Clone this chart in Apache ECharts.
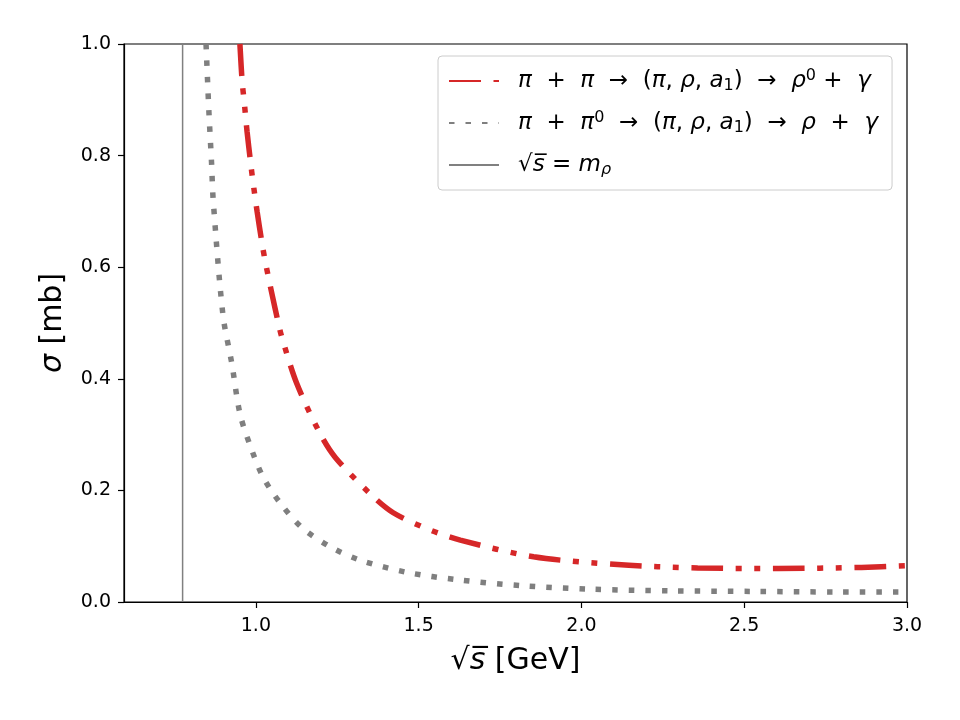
<!DOCTYPE html>
<html>
<head>
<meta charset="utf-8">
<script src="https://cdn.jsdelivr.net/npm/echarts@6/dist/echarts.min.js"></script>
<style>
  html, body { margin: 0; padding: 0; background: #fff; }
  #chart { width: 960px; height: 720px; }
</style>
</head>
<body>
<div id="chart"></div>
<script>
// sqrt(s) [GeV] and sigma [mb]
const redX = [0.951, 0.958, 0.964, 0.973, 0.984, 0.991, 1.004, 1.019, 1.029, 1.048, 1.069, 1.081, 1.126, 1.197, 1.244, 1.351, 1.422, 1.527, 1.628, 1.853, 2.111, 2.357, 2.604, 2.860, 3.000];
const redY = [1.000, 0.932, 0.898, 0.843, 0.787, 0.754, 0.699, 0.643, 0.610, 0.556, 0.500, 0.472, 0.391, 0.302, 0.259, 0.194, 0.160, 0.131, 0.111, 0.081, 0.067, 0.061, 0.060, 0.062, 0.065];

const grayX = [0.847, 0.856, 0.864, 0.869, 0.899, 0.926, 0.951, 0.982, 1.022, 1.074, 1.142, 1.228, 1.320, 1.465, 1.618, 1.823, 2.029, 2.275, 2.521, 2.785, 3.000];
const grayY = [1.000, 0.876, 0.786, 0.720, 0.514, 0.428, 0.338, 0.281, 0.224, 0.178, 0.133, 0.099, 0.075, 0.053, 0.040, 0.029, 0.023, 0.020, 0.019, 0.018, 0.018];

const mRho = 0.775;
const xTicks = [1.0, 1.5, 2.0, 2.5, 3.0];

const legendNames = {
  pipi: '{i|π}  +  {i|π}  →  ({i|π}, {i|ρ}, {i|a}{sub|1})  →  {i|ρ}{sup|0} +  {i|γ}',
  pipi0: '{i|π}  +  {i|π}{sup|0}  →  ({i|π}, {i|ρ}, {i|a}{sub|1})  →  {i|ρ}  +  {i|γ}',
  mrho: '√{i|s̅} = {i|m}{subi|ρ}'
};

const FONT = 'DejaVu Sans';
const LF = 23;
const rich = {
  i: { fontStyle: 'italic', fontFamily: FONT, fontSize: LF, lineHeight: 26, color: '#000' },
  sub: { fontFamily: FONT, fontSize: 16, lineHeight: 14, verticalAlign: 'bottom', color: '#000' },
  subi: { fontFamily: FONT, fontStyle: 'italic', fontSize: 16, lineHeight: 14, verticalAlign: 'bottom', color: '#000' },
  sup: { fontFamily: FONT, fontSize: 16, lineHeight: 14, verticalAlign: 'top', color: '#000' }
};

let myChart = echarts.init(document.getElementById('chart'), null, { renderer: 'canvas' });

var option = {
  backgroundColor: '#fff',
  animation: false,
  grid: {
    left: 124, right: 53, top: 44, bottom: 118,
    show: true, borderColor: '#000', borderWidth: 1.2, backgroundColor: 'transparent'
  },
  legend: {
    orient: 'vertical',
    left: 438, top: 56,
    padding: [12, 14, 12, 10],
    itemGap: 16,
    itemWidth: 50,
    itemHeight: 14,
    itemStyle: { opacity: 0 },
    borderColor: '#cccccc',
    borderWidth: 1,
    borderRadius: 4,
    backgroundColor: 'rgba(255,255,255,0.8)',
    data: ['pipi', 'pipi0', 'mrho'],
    formatter: name => legendNames[name],
    textStyle: {
      fontFamily: FONT, fontSize: LF, lineHeight: 26, color: '#000',
      padding: [0, 0, 0, 14],
      rich: rich
    }
  },
  xAxis: {
    type: 'value',
    min: 0.595,
    max: 3.0,
    name: '√{i|s̅} [GeV]',
    nameLocation: 'middle',
    nameGap: 44,
    nameTextStyle: {
      fontFamily: FONT, fontSize: 30, color: '#000',
      rich: { i: { fontFamily: FONT, fontStyle: 'italic', fontSize: 30, color: '#000' } }
    },
    splitLine: { show: false },
    axisLine: { show: true, onZero: false, lineStyle: { color: '#000', width: 1.2 } },
    axisTick: { show: true, length: 6, customValues: xTicks, lineStyle: { color: '#000', width: 1.2 } },
    axisLabel: {
      customValues: xTicks,
      margin: 15,
      fontFamily: FONT, fontSize: 19, color: '#000',
      formatter: v => v.toFixed(1)
    }
  },
  yAxis: {
    type: 'value',
    min: 0,
    max: 1,
    interval: 0.2,
    name: '{i|σ} [mb]',
    nameLocation: 'middle',
    nameGap: 56,
    nameRotate: 90,
    nameTextStyle: {
      fontFamily: FONT, fontSize: 30, color: '#000',
      rich: { i: { fontFamily: FONT, fontStyle: 'italic', fontSize: 30, color: '#000' } }
    },
    splitLine: { show: false },
    axisLine: { show: true, lineStyle: { color: '#000', width: 1.2 } },
    axisTick: { show: true, length: 6, lineStyle: { color: '#000', width: 1.2 } },
    axisLabel: {
      margin: 13,
      fontFamily: FONT, fontSize: 19, color: '#000',
      formatter: v => v.toFixed(1)
    }
  },
  series: [
    {
      name: 'pipi',
      type: 'line',
      data: redX.map((x, i) => [x, redY[i]]),
      smooth: 0.3,
      symbol: 'none',
      z: 3,
      lineStyle: { color: '#d62728', width: 5.5, type: [32, 12.5, 6, 12.5, 6, 12.5], cap: 'butt' },
      itemStyle: { color: '#d62728' }
    },
    {
      name: 'pipi0',
      type: 'line',
      data: grayX.map((x, i) => [x, grayY[i]]),
      smooth: 0.3,
      symbol: 'none',
      z: 3,
      lineStyle: { color: '#7f7f7f', width: 5.5, type: [5.5, 11], cap: 'butt' },
      itemStyle: { color: '#7f7f7f' }
    },
    {
      name: 'mrho',
      type: 'line',
      data: [[mRho, 0], [mRho, 1]],
      symbol: 'none',
      z: 2,
      lineStyle: { color: '#808080', width: 1.5 },
      itemStyle: { color: '#808080' }
    }
  ]
};

myChart.setOption(option);
window.addEventListener('resize', () => { myChart.resize(); });
</script>
</body>
</html>
